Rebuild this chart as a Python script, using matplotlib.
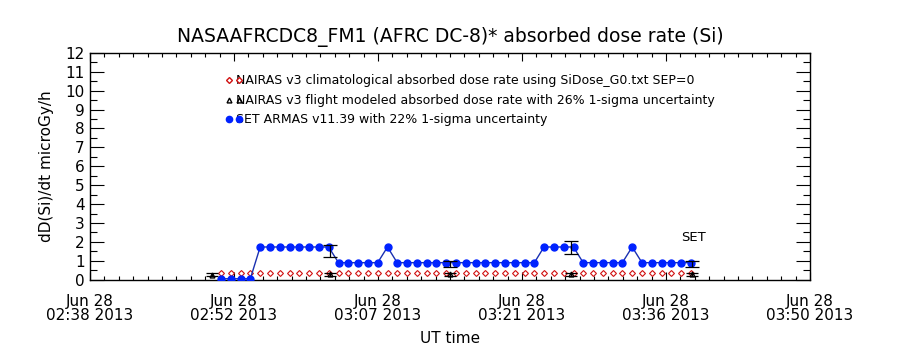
import datetime as dt
import matplotlib
matplotlib.use("Agg")
import matplotlib.pyplot as plt
import matplotlib.dates as mdates
from matplotlib.ticker import FixedLocator, MultipleLocator, FuncFormatter

# SET ARMAS / NAIRAS climatology sample times (UT, 2013-06-28)
times = ["02:51:06", "02:52:05", "02:53:03", "02:54:02", "02:55:01", "02:56:00", "02:56:58",
         "02:57:57", "02:58:56", "02:59:55", "03:00:53", "03:01:52", "03:02:51", "03:03:50",
         "03:04:48", "03:05:47", "03:06:46", "03:07:45", "03:08:43", "03:09:42", "03:10:41",
         "03:11:40", "03:12:38", "03:13:37", "03:14:36", "03:15:35", "03:16:33", "03:17:32",
         "03:18:31", "03:19:29", "03:20:28", "03:21:27", "03:22:26", "03:23:24", "03:24:23",
         "03:25:22", "03:26:21", "03:27:19", "03:28:18", "03:29:17", "03:30:16", "03:31:14",
         "03:32:13", "03:33:12", "03:34:11", "03:35:09", "03:36:08", "03:37:07", "03:38:06"]

set_dose = [0.05, 0.05, 0.05, 0.05, 1.73, 1.73, 1.73, 1.73, 1.73, 1.73, 1.73, 1.73,
            0.90, 0.90, 0.90, 0.90, 0.90, 1.73, 0.90, 0.90, 0.90, 0.90, 0.90, 0.90,
            0.90, 0.90, 0.90, 0.90, 0.90, 0.90, 0.90, 0.90, 0.90, 1.73, 1.73, 1.73,
            1.73, 0.90, 0.90, 0.90, 0.90, 0.90, 1.73, 0.90, 0.90, 0.90, 0.90, 0.90, 0.90]

clim_dose = [0.33, 0.33, 0.33, 0.33, 0.33, 0.33, 0.34, 0.34, 0.34, 0.34, 0.34, 0.34,
             0.34, 0.34, 0.34, 0.34, 0.34, 0.34, 0.34, 0.34, 0.34, 0.34, 0.34, 0.34,
             0.34, 0.34, 0.34, 0.34, 0.34, 0.34, 0.34, 0.34, 0.34, 0.34, 0.34, 0.34,
             0.34, 0.34, 0.34, 0.34, 0.34, 0.34, 0.34, 0.34, 0.34, 0.34, 0.34, 0.34, 0.34]

# NAIRAS flight modeled points (26% uncertainty)
model_times = ["02:50:10", "03:02:00", "03:14:00", "03:26:06", "03:38:10"]
model_dose = [0.27, 0.28, 0.28, 0.29, 0.29]
model_err = [0.07, 0.07, 0.07, 0.08, 0.08]

# SET ARMAS uncertainty bars (22%)
set_err_times = ["03:02:00", "03:14:00", "03:26:06", "03:38:10"]
set_err_dose = [1.53, 0.85, 1.70, 0.85]
set_err = [0.31, 0.16, 0.35, 0.16]

x_start = "02:38:00"
x_end = "03:50:00"
y_ticks = [0, 1, 2, 3, 4, 5, 6, 7, 8, 9, 10, 11, 12]

title = "NASAAFRCDC8_FM1 (AFRC DC-8)* absorbed dose rate (Si)"
legend_labels = ["NAIRAS v3 climatological absorbed dose rate using SiDose_G0.txt SEP=0",
                 "NAIRAS v3 flight modeled absorbed dose rate with 26% 1-sigma uncertainty",
                 "SET ARMAS v11.39 with 22% 1-sigma uncertainty"]


def to_dt(s):
    h, m, sec = [int(v) for v in s.split(":")]
    return dt.datetime(2013, 6, 28, h, m, sec)


t = [to_dt(s) for s in times]
tm = [to_dt(s) for s in model_times]
te = [to_dt(s) for s in set_err_times]
x0, x1 = to_dt(x_start), to_dt(x_end)

plt.rcParams['font.family'] = ['DejaVu Sans']

fig = plt.figure(figsize=(9, 3.5), dpi=100)
ax = fig.add_axes([0.1, 0.2009, 0.8, 0.648])

# climatology: red open diamonds
ax.plot(t, clim_dose, linestyle='none', marker='D', markersize=3.0,
        markerfacecolor='white', markeredgecolor='#d01010', markeredgewidth=0.8, zorder=3)

# flight model: black triangles with error bars
ax.errorbar(tm, model_dose, yerr=model_err, fmt='^', color='black', markersize=3.5,
            markerfacecolor='none', elinewidth=0.9, capsize=4, capthick=0.9, zorder=4)

# SET ARMAS: blue line and dots
ax.plot(t, set_dose, color='#1a30b0', linewidth=1.0, marker='o', markersize=5,
        markerfacecolor='#0022ff', markeredgecolor='#0022ff', zorder=5)
ax.errorbar(te, set_err_dose, yerr=set_err, fmt='none', ecolor='black',
            elinewidth=0.9, capsize=5, capthick=0.9, zorder=6)

ax.set_xlim(x0, x1)
ax.set_ylim(0, 12)

# x ticks every 14.4 min (5 intervals)
span = (x1 - x0) / 5
major = [mdates.date2num(x0 + span * i) for i in range(6)]
minor = [mdates.date2num(x0 + span * i / 10) for i in range(51)]
ax.xaxis.set_major_locator(FixedLocator(major))
ax.xaxis.set_minor_locator(FixedLocator(minor))


def fmt_time(v, pos):
    d = mdates.num2date(v).replace(tzinfo=None)
    d = d + dt.timedelta(seconds=30)
    return d.strftime("Jun %d\n%H:%M %Y")


ax.xaxis.set_major_formatter(FuncFormatter(fmt_time))
ax.yaxis.set_major_locator(FixedLocator(y_ticks))
ax.yaxis.set_minor_locator(MultipleLocator(0.5))

ax.tick_params(which='both', direction='in', top=True, right=True, colors='black')
ax.tick_params(axis='x', which='major', length=6, width=0.8, labelsize=11, pad=10)
ax.tick_params(axis='x', which='minor', length=3, width=0.8)
ax.tick_params(axis='y', which='major', length=10, width=0.8, labelsize=11, pad=4)
ax.tick_params(axis='y', which='minor', length=5, width=0.8)
for lab in ax.get_xticklabels():
    lab.set_linespacing(0.95)
for sp in ax.spines.values():
    sp.set_linewidth(1.0)

ax.set_title(title, fontsize=13.5, pad=8)
ax.set_xlabel("UT time", fontsize=11, labelpad=6)
ax.set_ylabel("dD(Si)/dt microGy/h", fontsize=11, labelpad=8)

# legend drawn IDL style
leg_y = [0.88, 0.792, 0.708]
leg_style = [dict(marker='D', markersize=3.0, markerfacecolor='white', markeredgecolor='#d01010'),
             dict(marker='^', markersize=3.5, markerfacecolor='none', markeredgecolor='black'),
             dict(marker='o', markersize=4.5, markerfacecolor='#0022ff', markeredgecolor='#0022ff')]
for yy, lab, st in zip(leg_y, legend_labels, leg_style):
    ax.plot([0.193, 0.2075], [yy, yy], transform=ax.transAxes, linestyle='none',
            clip_on=False, zorder=7, **st)
    ax.text(0.203, yy, lab, transform=ax.transAxes, fontsize=9, va='center', ha='left')

ax.text(0.821, 0.188, "SET", transform=ax.transAxes, fontsize=9.5, va='center', ha='left')

fig.savefig("out.png", dpi=100)
